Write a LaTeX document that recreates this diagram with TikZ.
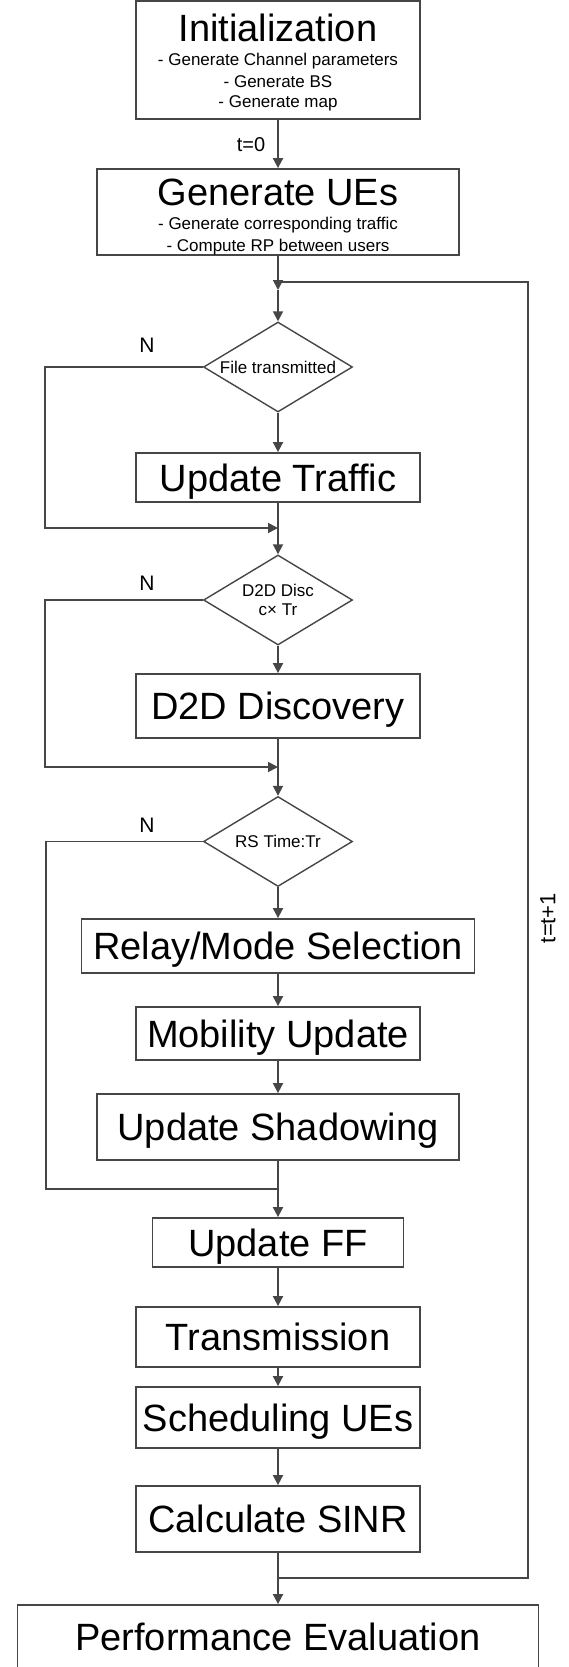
\documentclass[tikz,border=0pt]{standalone}
\usepackage{fontspec}
\setmainfont{Liberation Sans}
\usetikzlibrary{shapes.geometric,arrows.meta}
\definecolor{linec}{RGB}{70,70,70}
\tikzset{
  ln/.style={draw=linec, line width=1.8bp},
  arr/.style={ln, -{Triangle[length=10bp,width=10bp]}},
  box/.style={draw=linec, line width=1.8bp, rectangle, inner sep=0pt,
    font=\fontsize{38bp}{40bp}\selectfont, text height=27.2bp, text depth=0bp},
  dia/.style={draw=linec, line width=1.4bp, diamond, inner sep=0pt, aspect=1.656,
    minimum width=149bp, minimum height=90bp,
    font=\fontsize{17bp}{19bp}\selectfont, align=center},
  ttl/.style={inner sep=0pt, anchor=base, font=\fontsize{38bp}{40bp}\selectfont},
  sub/.style={inner sep=0pt, anchor=base, font=\fontsize{17bp}{19bp}\selectfont},
  lbl/.style={inner sep=0pt, font=\fontsize{21bp}{21bp}\selectfont},
  tlbl/.style={inner sep=0pt, font=\fontsize{20bp}{20bp}\selectfont},
}
\begin{document}
\begin{tikzpicture}[x=1bp,y=-1bp]
\useasboundingbox (0,0) rectangle (569,1667);
% boxes
\node[box, minimum width=284bp, minimum height=118bp] (init) at (278,60) {};
\node[ttl] (initt) at (278,41.5) {Initialization};
\node[sub] (inits1) at (278,66) {- Generate Channel parameters};
\node[sub] (inits2) at (278,87) {- Generate BS};
\node[sub] (inits3) at (278,107.7) {- Generate map};
\node[box, minimum width=362bp, minimum height=86bp] (genue) at (278,212) {};
\node[ttl] (genuet) at (278,205) {Generate UEs};
\node[sub] (genues1) at (278,229.4) {- Generate corresponding traffic};
\node[sub] (genues2) at (278,251) {- Compute RP between users};
\node[dia] (d1) at (278,367) {File transmitted};
\node[box, minimum width=284bp, minimum height=49bp] (ut) at (278,477.5) {Update Traffic};
\node[dia] (d2) at (278,600) {D2D Disc\\c× Tr};
\node[box, minimum width=284bp, minimum height=64bp] (d2d) at (278,706) {D2D Discovery};
\node[dia] (d3) at (278,841.5) {RS Time:Tr};
\node[box, minimum width=393bp, minimum height=54bp] (relay) at (278,946) {Relay/Mode Selection};
\node[box, minimum width=284bp, minimum height=53bp] (mob) at (278,1033.5) {Mobility Update};
\node[box, minimum width=362bp, minimum height=66bp] (shad) at (278,1127) {Update Shadowing};
\node[box, minimum width=251bp, minimum height=49bp] (ff) at (278,1242.5) {Update FF};
\node[box, minimum width=284bp, minimum height=60bp] (trans) at (278,1337) {Transmission};
\node[box, minimum width=284bp, minimum height=61bp] (sched) at (278,1417.5) {Scheduling UEs};
\node[box, minimum width=284bp, minimum height=66bp] (sinr) at (278,1519) {Calculate SINR};
\node[box, minimum width=521bp, minimum height=64bp] (perf) at (278,1637) {Performance Evaluation};
% labels
\node[tlbl] (t0) at (251,145) {t=0};
\node[lbl] (n1) at (147,345) {N};
\node[lbl] (n2) at (147,583) {N};
\node[lbl] (n3) at (147,825) {N};
\node[tlbl, rotate=90, font=\fontsize{22bp}{22bp}\selectfont] (tt) at (548,918) {t=t+1};
% coordinates
\coordinate (j0) at (278,290);
\coordinate (j1) at (278,282);
\coordinate (l1) at (45,528);
\coordinate (m1) at (278,528);
\coordinate (l2) at (45,767);
\coordinate (m2) at (278,767);
\coordinate (l3) at (46,1189);
\coordinate (m3) at (278,1189);
\coordinate (m4) at (278,1578);
\coordinate (r1) at (528,1578);
\coordinate (r2) at (528,282);
% connectors
\draw[arr] (init) -- (genue);
\draw[arr] (genue) -- (j0);
\draw[arr] (j0) -- (d1.north);
\draw[arr] (d1) -- (ut);
\draw[arr] (d1.west) -| (l1) -- (m1);
\draw[ln] (ut) -- (m1);
\draw[arr] (m1) -- (d2.north);
\draw[arr] (d2) -- (d2d);
\draw[arr] (d2.west) -| (l2) -- (m2);
\draw[ln] (d2d) -- (m2);
\draw[arr] (m2) -- (d3.north);
\draw[arr] (d3) -- (relay);
\draw[ln] (d3.west) -| (l3) -- (m3);
\draw[arr] (relay) -- (mob);
\draw[arr] (mob) -- (shad);
\draw[ln] (shad) -- (m3);
\draw[arr] (m3) -- (ff);
\draw[arr] (ff) -- (trans);
\draw[arr] (trans) -- (sched);
\draw[arr] (sched) -- (sinr);
\draw[ln] (sinr) -- (m4);
\draw[arr] (m4) -- (perf);
\draw[ln] (m4) -- (r1) -- (r2) -- (j1);
\end{tikzpicture}
\end{document}
